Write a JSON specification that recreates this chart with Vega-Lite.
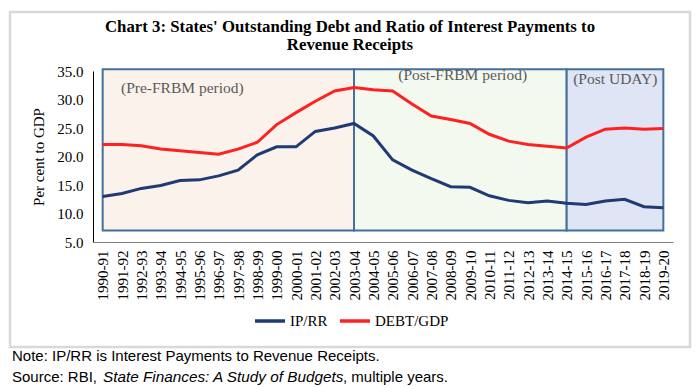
{
  "$schema": "https://vega.github.io/schema/vega-lite/v6.json",
  "autosize": {"type": "none"},
  "width": 580,
  "height": 171,
  "padding": {"left": 93, "top": 71, "right": 25, "bottom": 145},
  "background": "white",
  "config": {
    "view": {"stroke": null},
    "font": "Liberation Serif",
    "axisY": {
      "labelOverlap": false,
      "labelFont": "Liberation Serif",
      "labelFontSize": 15,
      "labelColor": "#000000",
      "labelPadding": 10,
      "ticks": false,
      "grid": false,
      "domainColor": "#000000",
      "domainWidth": 1,
      "titleFont": "Liberation Serif",
      "titleFontSize": 15,
      "titleFontWeight": "normal",
      "titleColor": "#000000",
      "titlePadding": 10
    },
    "axisX": {
      "labelOverlap": false,
      "labelAngle": -90,
      "labelFont": "Liberation Serif",
      "labelFontSize": 15,
      "labelColor": "#000000",
      "labelPadding": 8,
      "ticks": false,
      "domainColor": "#808080",
      "domainWidth": 1
    }
  },
  "title": {
    "text": ["Chart 3: States' Outstanding Debt and Ratio of Interest Payments to", "Revenue Receipts"],
    "font": "Liberation Serif",
    "fontSize": 16.8,
    "fontWeight": "bold",
    "color": "#000000",
    "anchor": "middle",
    "dx": -33,
    "offset": -43,
    "lineHeight": 18
  },
  "datasets": {
    "series": [
      {"year": "1990-91", "IP/RR": 13.0, "DEBT/GDP": 22.1},
      {"year": "1991-92", "IP/RR": 13.5, "DEBT/GDP": 22.1},
      {"year": "1992-93", "IP/RR": 14.4, "DEBT/GDP": 21.9},
      {"year": "1993-94", "IP/RR": 14.9, "DEBT/GDP": 21.3},
      {"year": "1994-95", "IP/RR": 15.8, "DEBT/GDP": 21.0},
      {"year": "1995-96", "IP/RR": 15.9, "DEBT/GDP": 20.7},
      {"year": "1996-97", "IP/RR": 16.6, "DEBT/GDP": 20.4},
      {"year": "1997-98", "IP/RR": 17.6, "DEBT/GDP": 21.3},
      {"year": "1998-99", "IP/RR": 20.3, "DEBT/GDP": 22.5},
      {"year": "1999-00", "IP/RR": 21.7, "DEBT/GDP": 25.6},
      {"year": "2000-01", "IP/RR": 21.7, "DEBT/GDP": 27.7},
      {"year": "2001-02", "IP/RR": 24.4, "DEBT/GDP": 29.7},
      {"year": "2002-03", "IP/RR": 25.0, "DEBT/GDP": 31.5},
      {"year": "2003-04", "IP/RR": 25.8, "DEBT/GDP": 32.1},
      {"year": "2004-05", "IP/RR": 23.6, "DEBT/GDP": 31.7},
      {"year": "2005-06", "IP/RR": 19.4, "DEBT/GDP": 31.5},
      {"year": "2006-07", "IP/RR": 17.6, "DEBT/GDP": 29.2},
      {"year": "2007-08", "IP/RR": 16.1, "DEBT/GDP": 27.1},
      {"year": "2008-09", "IP/RR": 14.7, "DEBT/GDP": 26.5},
      {"year": "2009-10", "IP/RR": 14.6, "DEBT/GDP": 25.8},
      {"year": "2010-11", "IP/RR": 13.1, "DEBT/GDP": 23.9},
      {"year": "2011-12", "IP/RR": 12.3, "DEBT/GDP": 22.7},
      {"year": "2012-13", "IP/RR": 11.9, "DEBT/GDP": 22.1},
      {"year": "2013-14", "IP/RR": 12.2, "DEBT/GDP": 21.8},
      {"year": "2014-15", "IP/RR": 11.8, "DEBT/GDP": 21.5},
      {"year": "2015-16", "IP/RR": 11.6, "DEBT/GDP": 23.4},
      {"year": "2016-17", "IP/RR": 12.2, "DEBT/GDP": 24.8},
      {"year": "2017-18", "IP/RR": 12.5, "DEBT/GDP": 25.0},
      {"year": "2018-19", "IP/RR": 11.2, "DEBT/GDP": 24.8},
      {"year": "2019-20", "IP/RR": 11.0, "DEBT/GDP": 24.9}
    ],
    "periods": [
      {"period": "Pre-FRBM", "from": "1990-91", "to": "2003-04"},
      {"period": "Post-FRBM", "from": "2003-04", "to": "2014-15"},
      {"period": "Post UDAY", "from": "2014-15", "to": "2019-20"}
    ]
  },
  "layer": [
    {
      "data": {"values": [{}]},
      "mark": {"type": "rect", "fill": null, "stroke": "#D9D9D9", "strokeWidth": 2.5, "clip": false},
      "encoding": {
        "x": {"value": -83},
        "x2": {"value": 597},
        "y": {"value": -59},
        "y2": {"value": 276}
      }
    },
    {
      "data": {"name": "periods"},
      "mark": {"type": "rect", "stroke": "#41719C", "strokeWidth": 2},
      "encoding": {
        "x": {"field": "from", "type": "ordinal", "scale": {"type": "point", "padding": 0.5}},
        "x2": {"field": "to"},
        "y": {
          "datum": 7,
          "type": "quantitative",
          "scale": {"domain": [5, 35], "nice": false, "zero": false},
          "axis": {
            "title": "Per cent to GDP",
            "format": ".1f",
            "values": [5, 10, 15, 20, 25, 30, 35],
            "labelOverlap": false,
            "labelSeparation": 0,
            "tickCount": 7
          }
        },
        "y2": {"datum": 35.3},
        "fill": {
          "field": "period",
          "type": "nominal",
          "scale": {"domain": ["Pre-FRBM", "Post-FRBM", "Post UDAY"], "range": ["#FCF2EC", "#F4F9EF", "#DFE5F4"]},
          "legend": null
        }
      }
    },
    {
      "data": {"name": "series"},
      "transform": [{"fold": ["IP/RR", "DEBT/GDP"], "as": ["series", "value"]}],
      "mark": {"type": "line", "strokeWidth": 3},
      "encoding": {
        "x": {
          "field": "year",
          "type": "ordinal",
          "sort": null,
          "scale": {"type": "point", "padding": 0.5},
          "axis": {"title": null, "labelOverlap": false}
        },
        "y": {
          "field": "value",
          "type": "quantitative",
          "scale": {"domain": [5, 35], "nice": false, "zero": false},
          "axis": {
            "title": "Per cent to GDP",
            "format": ".1f",
            "values": [5, 10, 15, 20, 25, 30, 35],
            "labelOverlap": false,
            "labelSeparation": 0,
            "tickCount": 7
          }
        },
        "color": {
          "field": "series",
          "type": "nominal",
          "scale": {"domain": ["IP/RR", "DEBT/GDP"], "range": ["#1F3A74", "#FF2020"]},
          "legend": {
            "title": null,
            "orient": "none",
            "direction": "horizontal",
            "legendX": 160,
            "legendY": 233,
            "symbolType": "stroke",
            "symbolSize": 900,
            "symbolStrokeWidth": 3.5,
            "labelFont": "Liberation Serif",
            "labelFontSize": 15,
            "labelColor": "#000000",
            "labelOffset": 3,
            "columnPadding": 5
          }
        }
      }
    },
    {
      "data": {"values": [{}]},
      "mark": {"type": "text", "text": "(Pre-FRBM period)", "font": "Liberation Serif", "fontSize": 15.5, "color": "#595959", "align": "left", "baseline": "middle", "dx": -1},
      "encoding": {"x": {"datum": "1991-92"}, "y": {"datum": 32.0}}
    },
    {
      "data": {"values": [{}]},
      "mark": {"type": "text", "text": "(Post-FRBM period)", "font": "Liberation Serif", "fontSize": 15.5, "color": "#595959", "align": "center", "baseline": "middle", "dx": 12},
      "encoding": {"x": {"datum": "2008-09"}, "y": {"datum": 34.3}}
    },
    {
      "data": {"values": [{}]},
      "mark": {"type": "text", "text": "(Post UDAY)", "font": "Liberation Serif", "fontSize": 15.5, "color": "#595959", "align": "center", "baseline": "middle", "dx": 10},
      "encoding": {"x": {"datum": "2016-17"}, "y": {"datum": 33.6}}
    },
    {
      "data": {"values": [{}]},
      "mark": {"type": "text", "text": "Note: IP/RR is Interest Payments to Revenue Receipts.", "font": "Liberation Sans", "fontSize": 15, "color": "#000000", "align": "left", "baseline": "middle"},
      "encoding": {"x": {"value": -81}, "y": {"value": 285}}
    },
    {
      "data": {"values": [{}]},
      "mark": {"type": "text", "text": "Source: RBI, ", "font": "Liberation Sans", "fontSize": 15, "color": "#000000", "align": "left", "baseline": "middle"},
      "encoding": {"x": {"value": -81}, "y": {"value": 306}}
    },
    {
      "data": {"values": [{}]},
      "mark": {"type": "text", "text": "State Finances: A Study of Budgets", "font": "Liberation Sans", "fontSize": 15.3, "fontStyle": "italic", "color": "#000000", "align": "left", "baseline": "middle"},
      "encoding": {"x": {"value": 10}, "y": {"value": 306}}
    },
    {
      "data": {"values": [{}]},
      "mark": {"type": "text", "text": ", multiple years.", "font": "Liberation Sans", "fontSize": 15, "color": "#000000", "align": "left", "baseline": "middle"},
      "encoding": {"x": {"value": 250}, "y": {"value": 306}}
    }
  ]
}
